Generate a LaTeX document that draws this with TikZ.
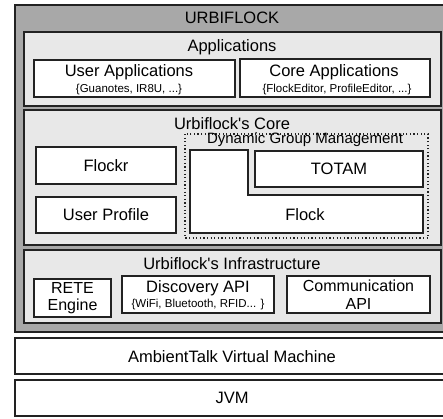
\documentclass[tikz,border=0pt]{standalone}
\usepackage{fontspec}
\setmainfont{Liberation Sans}
\definecolor{outergray}{HTML}{A8A8A8}
\definecolor{layergray}{HTML}{E8E8E8}
\definecolor{edge}{HTML}{222222}
\begin{document}
\begin{tikzpicture}[x=1pt,y=-1pt,
  frame/.style={draw=edge,line width=1.2pt},
  layer/.style={frame,fill=layergray},
  comp/.style={frame,fill=white},
  big/.style={font=\fontsize{16.5}{18}\selectfont,inner sep=0pt},
  small/.style={font=\fontsize{11.5}{13}\selectfont,inner sep=0pt},
  twoline/.style={big,align=center,font=\fontsize{16}{17.5}\selectfont}]
\useasboundingbox (0,0) rectangle (443,418);
\clip (0,0) rectangle (443,418);

% outer Urbiflock frame
\path[frame,fill=outergray] (15,5) rectangle (452,332);
\node[big] (urbiflock) at (232,18) {URBIFLOCK};

% applications layer
\path[layer] (24,32) rectangle (441,106);
\node[big] (applications) at (232,47) {Applications};
\path[comp] (34,60) rectangle (235,97);
\node[big] (userapps) at (129,72) {User Applications};
\node[small] (userappsex) at (129,89.5) {\{Guanotes, IR8U, ...\}};
\path[comp] (240,59) rectangle (430,97);
\node[big] (coreapps) at (334,72) {Core Applications};
\node[small] (coreappsex) at (337,89.5) {\{FlockEditor, ProfileEditor, ...\}};

% core layer
\path[layer] (24,110) rectangle (441,245);
\node[big] (core) at (232,124) {Urbiflock\textquotesingle s Core};
\path[draw=edge,line width=1.2pt,dash pattern=on 1.2pt off 2.4pt] (185,134) rectangle (428,238);
\node[big,font=\fontsize{15}{17}\selectfont] (dgm) at (305,140) {Dynamic Group Management};
\path[comp] (36,147) rectangle (176,184);
\node[big] (flockr) at (106,165.5) {Flockr};
\path[comp] (36,197) rectangle (176,233);
\node[big] (profile) at (106,215) {User Profile};
\path[comp] (190,150) -- (248,150) -- (248,195) -- (423,195) -- (423,233) -- (190,233) -- cycle;
\node[big] (flock) at (305,215) {Flock};
\path[comp] (255,151) rectangle (423,187);
\node[big] (totam) at (339,169) {TOTAM};

% infrastructure layer
\path[layer] (24,250) rectangle (441,323);
\node[big] (infra) at (232,264) {Urbiflock\textquotesingle s Infrastructure};
\path[comp] (34,279) rectangle (111,317);
\node[twoline] (rete) at (72.5,298) {RETE\\Engine};
\path[comp] (122,276) rectangle (274,313);
\node[big] (discovery) at (198,288) {Discovery API};
\node[small] (discoveryex) at (198,305) {\{WiFi, Bluetooth, RFID... \}};
\path[comp] (287,276) rectangle (430,313);
\node[twoline] (comm) at (358.5,294.5) {Communication\\API};

% platform layers
\path[comp] (15,338) rectangle (452,374);
\node[big] (ambienttalk) at (232,357) {AmbientTalk Virtual Machine};
\path[comp] (15,380) rectangle (452,416);
\node[big] (jvm) at (232,398) {JVM};
\end{tikzpicture}
\end{document}
